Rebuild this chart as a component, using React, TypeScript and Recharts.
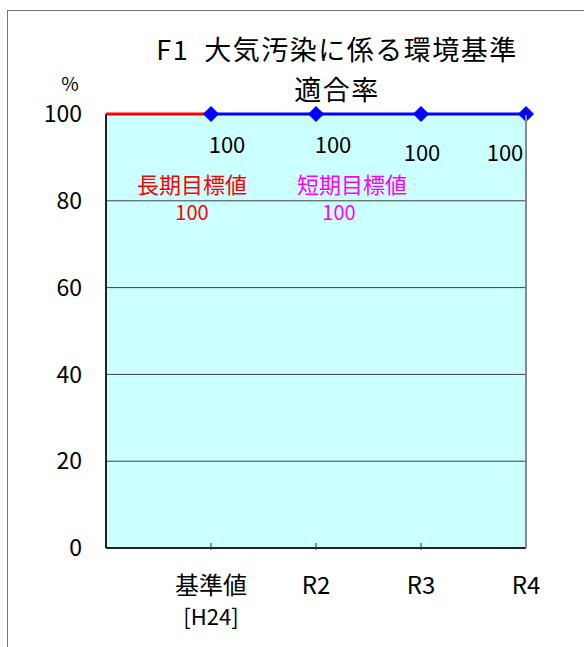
import React from 'react';
import { LineChart, Line, XAxis, YAxis, CartesianGrid, LabelList } from 'recharts';

const FONT = '"Noto Sans CJK JP", "Noto Sans", sans-serif';

const categories = ['', '基準値|[H24]', 'R2', 'R3', 'R4'];
const achievedRate = [null, 100, 100, 100, 100];
const longTermTarget = [100, 100, null, null, null];
const yTicks = [0, 20, 40, 60, 80, 100];

// label placement for the black value labels (px offsets from the point)
const labelDx = [0, 16, 17, 1, -21];
const labelDy = [0, 29, 29, 37, 37];

const data = categories.map((c, i) => ({
  name: c,
  rate: achievedRate[i],
  longTerm: longTermTarget[i],
}));

const Diamond = (props: any) => {
  const { cx, cy, value } = props;
  if (value == null || cx == null) return null;
  const r = 7.5;
  return (
    <path
      d={`M${cx},${cy - r} L${cx + r},${cy} L${cx},${cy + r} L${cx - r},${cy} Z`}
      fill="#0000ff"
      stroke="#0000ff"
    />
  );
};

const XTick = (props: any) => {
  const { x, y, payload, index } = props;
  const lines = String(payload.value).split('|');
  return (
    <g>
      {index > 0 && index < 4 && (
        <line x1={x} y1={y} x2={x} y2={y - 7} stroke="#333" strokeWidth={1} />
      )}
      {lines.map((t, i) =>
        t ? (
          <text
            key={i}
            x={x}
            y={y + 33 + i * 32}
            textAnchor="middle"
            dominantBaseline="central"
            fontSize={i === 0 ? 24 : 22}
            fontFamily={FONT}
            fill="#000"
          >
            {t}
          </text>
        ) : null
      )}
    </g>
  );
};

const ValueLabel = (props: any) => {
  const { x, y, value, index } = props;
  if (value == null) return null;
  return (
    <text
      x={x + labelDx[index]}
      y={y + labelDy[index]}
      textAnchor="middle"
      dominantBaseline="central"
      fontSize={22}
      fontFamily={FONT}
      fill="#000"
    >
      {value}
    </text>
  );
};

export default function App() {
  return (
    <div
      style={{
        position: 'absolute',
        left: 0,
        top: 0,
        width: 584,
        height: 647,
        overflow: 'hidden',
        background: '#fff',
        fontFamily: FONT,
      }}
    >
      <div
        style={{
          position: 'absolute',
          left: 7,
          top: 10,
          width: 700,
          height: 800,
          borderTop: '1.5px solid #777',
          borderLeft: '1.5px solid #777',
        }}
      />
      <LineChart
        width={584}
        height={647}
        data={data}
        margin={{ top: 114, right: 58, bottom: 0, left: 46 }}
        style={{ position: 'absolute', left: 0, top: 0 }}
      >
        <CartesianGrid vertical={false} stroke="#404040" fill="#ccffff" horizontalValues={[20, 40, 60, 80]} />
        <XAxis
          dataKey="name"
          height={99}
          interval={0}
          tickSize={0}
          tickLine={false}
          tick={<XTick />}
          axisLine={{ stroke: '#222', strokeWidth: 2 }}
          padding={{ left: 0, right: 0 }}
        />
        <YAxis
          width={60}
          domain={[0, 100]}
          ticks={yTicks}
          tickLine={false}
          tickSize={0}
          tickMargin={24}
          axisLine={{ stroke: '#222', strokeWidth: 2 }}
          tick={{ fontSize: 23, fill: '#000', fontFamily: FONT }}
        />
        <Line
          dataKey="longTerm"
          stroke="#ff0000"
          strokeWidth={3}
          dot={false}
          isAnimationActive={false}
          connectNulls={false}
        />
        <Line
          dataKey="rate"
          stroke="#0000ff"
          strokeWidth={3}
          dot={<Diamond />}
          isAnimationActive={false}
        >
          <LabelList dataKey="rate" content={<ValueLabel />} />
        </Line>
      </LineChart>
      <svg
        width={584}
        height={647}
        style={{ position: 'absolute', left: 0, top: 0, pointerEvents: 'none' }}
      >
        <line x1={526} y1={115} x2={526} y2={548} stroke="#888" strokeWidth={2} />
        <text x={337} y={48} textAnchor="middle" dominantBaseline="central" fontSize={27} letterSpacing={1.5} fontFamily={FONT} fill="#000">
          {'F1\u00a0\u00a0大気汚染に係る環境基準'}
        </text>
        <text x={337} y={88} textAnchor="middle" dominantBaseline="central" fontSize={27} letterSpacing={1.5} fontFamily={FONT} fill="#000">
          適合率
        </text>
        <text x={70} y={82} textAnchor="middle" dominantBaseline="central" fontSize={19} fontFamily={FONT} fill="#000">
          %
        </text>
        <text x={192} y={183} textAnchor="middle" dominantBaseline="central" fontSize={22} fontFamily={FONT} fill="#ff0000">
          長期目標値
        </text>
        <text x={192} y={211} textAnchor="middle" dominantBaseline="central" fontSize={20} fontFamily={FONT} fill="#ff0000">
          100
        </text>
        <text x={352} y={183} textAnchor="middle" dominantBaseline="central" fontSize={22} fontFamily={FONT} fill="#ff00ff">
          短期目標値
        </text>
        <text x={339} y={211} textAnchor="middle" dominantBaseline="central" fontSize={20} fontFamily={FONT} fill="#ff00ff">
          100
        </text>
      </svg>
    </div>
  );
}
